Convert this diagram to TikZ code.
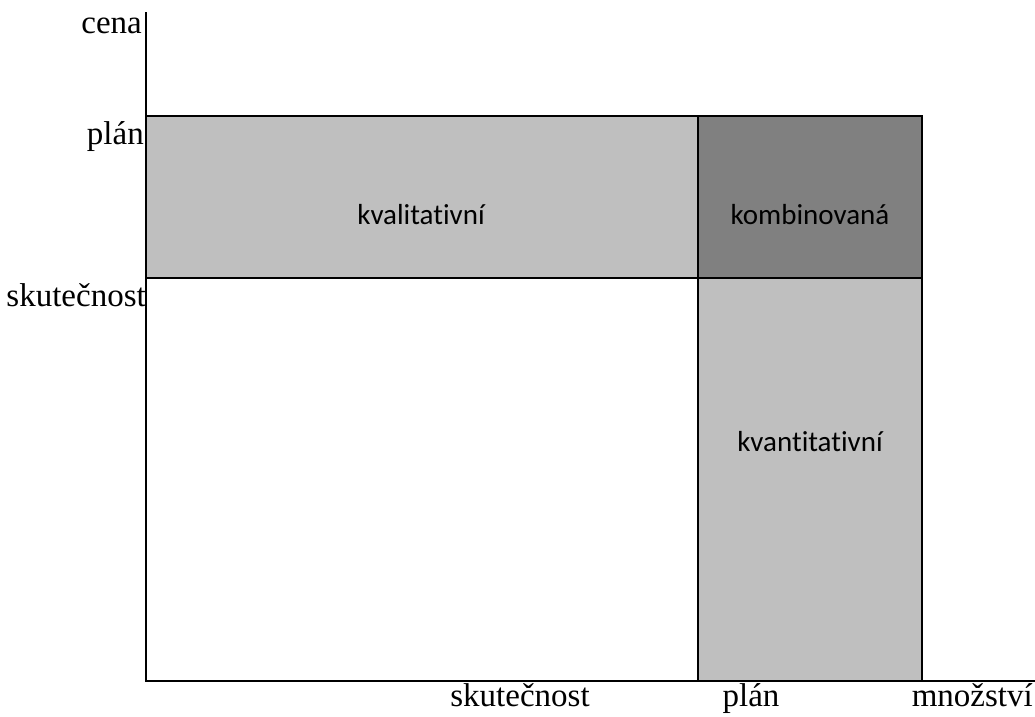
\documentclass[tikz,border=0pt]{standalone}
\usepackage{fontspec}
\setmainfont{Liberation Serif}
\newfontfamily\boxfont[Ligatures=NoCommon]{Carlito}
\begin{document}
\begin{tikzpicture}[x=1pt,y=-1pt,
  axis/.style={line width=2pt,line cap=rect},
  cell/.style={draw=black,line width=1.5pt},
  axislabel/.style={font=\fontsize{33}{38}\selectfont,inner sep=0pt},
  celllabel/.style={font=\boxfont\fontsize{29}{34}\selectfont,text=black}]
\useasboundingbox (0,0) rectangle (1035,716);
% regions of the deviation chart
\fill[black!25] (146,116) rectangle (698,278);
\fill[black!50] (698,116) rectangle (922,278);
\fill[black!25] (698,278) rectangle (922,681);
\draw[cell] (146,116) -- (922,116) -- (922,681);
\draw[cell] (146,278) -- (922,278);
\draw[cell] (698,116) -- (698,681);
% axes
\coordinate (ytop) at (146,13);
\coordinate (origin) at (146,681);
\coordinate (xend) at (1034,681);
\draw[axis] (ytop) -- (origin) -- (xend);
% region labels
\node[celllabel] (kval) at (421,215) {kvalitativní};
\node[celllabel] (komb) at (810,215) {kombinovaná};
\node[celllabel] (kvan) at (810,442) {kvantitativní};
% axis labels
\node[axislabel,anchor=base east] (cena) at (142,33) {cena};
\node[axislabel,anchor=base east] (yplan) at (144,144) {plán};
\node[axislabel,anchor=base east] (yskut) at (146,306) {skutečnost};
\node[axislabel,anchor=base] (xskut) at (520,706) {skutečnost};
\node[axislabel,anchor=base] (xplan) at (751,706) {plán};
\node[axislabel,anchor=base east] (mnoz) at (1033,706) {množství};
\end{tikzpicture}
\end{document}
